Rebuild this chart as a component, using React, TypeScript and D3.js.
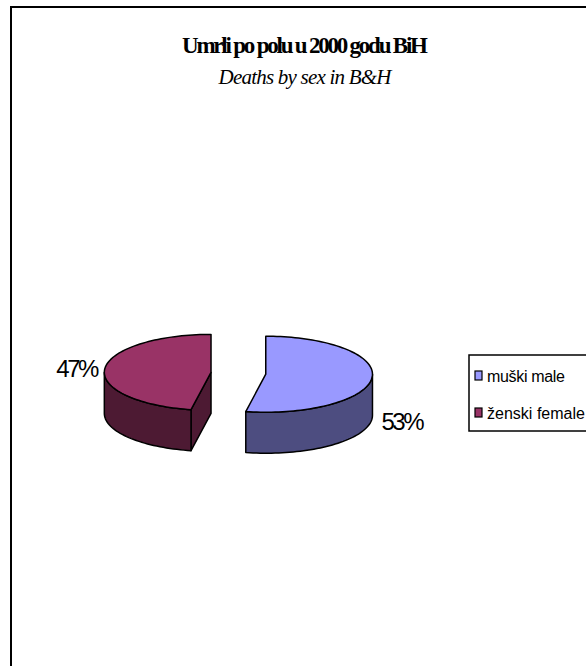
import React from "react";
import * as d3 from "d3";

const categories: string[] = ["muški male", "ženski female"];
const values: number[] = [53, 47];
const topColors: string[] = ["#9999FF", "#993366"];
const sideColors: string[] = ["#4D4D80", "#4D1A33"];
const titleText = "Umrli po polu u 2000 godu BiH";
const subtitleText = "Deaths by sex in B&H";

const W = 586;
const H = 666;
const cx = 238.4;
const cy = 373.3;
const rx = 106.7;
const ry = 38;
const depth = 41;
const explode = 27.5;

type P = [number, number];

function pt(c: P, a: number, dy = 0): P {
  return [c[0] + rx * Math.sin(a), c[1] - ry * Math.cos(a) + dy];
}

function arcPts(c: P, a0: number, a1: number, dy = 0): P[] {
  const n = Math.max(2, Math.ceil(((a1 - a0) / (2 * Math.PI)) * 180));
  const out: P[] = [];
  for (let i = 0; i <= n; i++) out.push(pt(c, a0 + ((a1 - a0) * i) / n, dy));
  return out;
}

const line = d3.line<P>().x((d) => d[0]).y((d) => d[1]);

export default function App() {
  const total = d3.sum(values);
  const arcs = d3
    .pie<number>()
    .sort(null)
    .startAngle(0)
    .endAngle(2 * Math.PI)(values);

  const slices = arcs.map((a, i) => {
    const m = (a.startAngle + a.endAngle) / 2;
    const c: P = [
      cx + explode * Math.sin(m),
      cy - explode * (ry / rx) * Math.cos(m),
    ];
    const a0 = a.startAngle;
    const a1 = a.endAngle;
    const paths: { d: string; fill: string }[] = [];
    if (Math.sin(a0) < -1e-6) {
      const p = pt(c, a0);
      const q: P[] = [c, p, [p[0], p[1] + depth], [c[0], c[1] + depth]];
      paths.push({ d: line(q)! + "Z", fill: sideColors[i] });
    }
    if (Math.sin(a1) > 1e-6) {
      const p = pt(c, a1);
      const q: P[] = [c, p, [p[0], p[1] + depth], [c[0], c[1] + depth]];
      paths.push({ d: line(q)! + "Z", fill: sideColors[i] });
    }
    const s = Math.max(a0, Math.PI / 2);
    const e = Math.min(a1, (3 * Math.PI) / 2);
    if (e > s) {
      const topP = arcPts(c, s, e);
      const botP = arcPts(c, s, e, depth).reverse();
      paths.push({ d: line([...topP, ...botP])! + "Z", fill: sideColors[i] });
    }
    const tp: P[] = [c, ...arcPts(c, a0, a1)];
    paths.push({ d: line(tp)! + "Z", fill: topColors[i] });

    const pct = Math.round((a.data / total) * 100) + "%";
    const right = Math.sin(m) > 0;
    const label = right
      ? { x: c[0] + rx + 9, y: c[1] + ry + depth - 23, anchor: "start" }
      : { x: c[0] - rx - 5, y: c[1] + 5, anchor: "end" };
    return { paths, pct, label };
  });

  const legendX = 469;
  const legendY = 355;
  const rowH = 37;

  return (
    <svg
      width={W}
      height={H}
      style={{ position: "absolute", left: 0, top: 0, background: "#fff" }}
    >
      <rect x={0} y={0} width={W} height={H} fill="#fff" />
      <rect
        x={11}
        y={7}
        width={W + 20}
        height={H + 20}
        fill="none"
        stroke="#000"
        strokeWidth={2}
      />
      <text
        x={305}
        y={53}
        textAnchor="middle"
        fontFamily="'Liberation Serif', 'Times New Roman', serif"
        fontWeight="bold"
        fontSize={23}
        textLength={246}
        lengthAdjust="spacing"
      >
        {titleText}
      </text>
      <text
        x={305}
        y={84}
        textAnchor="middle"
        fontFamily="'Liberation Serif', 'Times New Roman', serif"
        fontStyle="italic"
        fontSize={21}
        textLength={173}
        lengthAdjust="spacing"
      >
        {subtitleText}
      </text>

      {slices.map((s, i) => (
        <text
          key={"l" + i}
          x={s.label.x}
          y={s.label.y}
          textAnchor={s.label.anchor as any}
          fontFamily="'Liberation Sans', Arial, sans-serif"
          fontSize={24}
          textLength={43}
          lengthAdjust="spacing"
        >
          {s.pct}
        </text>
      ))}

      {slices.map((s, i) => (
        <g key={"s" + i}>
          {s.paths.map((p, j) => (
            <path
              key={j}
              d={p.d}
              fill={p.fill}
              stroke="#000"
              strokeWidth={1.5}
              strokeLinejoin="round"
            />
          ))}
        </g>
      ))}

      <rect
        x={legendX}
        y={legendY}
        width={140}
        height={76}
        fill="#fff"
        stroke="#000"
        strokeWidth={1.5}
      />
      {categories.map((c, i) => (
        <g key={"lg" + i} transform={`translate(${legendX},${legendY + 16 + i * rowH})`}>
          <rect x={6} y={0} width={7} height={9} fill={topColors[i]} stroke="#000" strokeWidth={1.2} />
          <text
            x={18}
            y={11}
            fontFamily="'Liberation Sans', Arial, sans-serif"
            fontSize={16}
            textLength={i === 0 ? 78 : 98}
            lengthAdjust="spacing"
          >
            {c}
          </text>
        </g>
      ))}
    </svg>
  );
}
